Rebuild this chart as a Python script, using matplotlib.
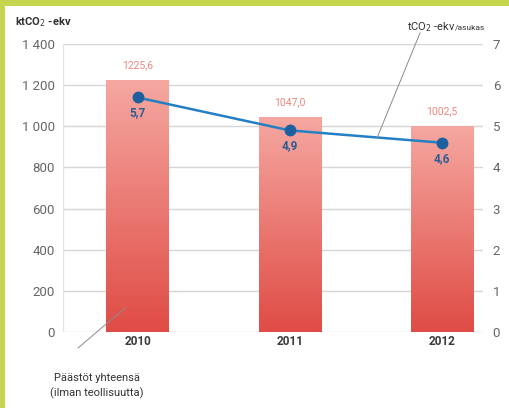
import numpy as np
import matplotlib
matplotlib.use("Agg")
import matplotlib.pyplot as plt
from matplotlib.patches import Rectangle
from matplotlib.colors import LinearSegmentedColormap
from matplotlib.lines import Line2D

years = ["2010", "2011", "2012"]
total_kt = [1225.6, 1047.0, 1002.5]
per_capita_t = [5.7, 4.9, 4.6]
left_ticks = [0, 200, 400, 600, 800, 1000, 1200, 1400]
left_tick_labels = ["0", "200", "400", "600", "800", "1 000", "1 200", "1 400"]
right_ticks = [0, 1, 2, 3, 4, 5, 6, 7]

plt.rcParams["font.family"] = ["Roboto", "DejaVu Sans"]

W, H = 510, 408
fig = plt.figure(figsize=(W / 100, H / 100), dpi=100)
fig.patch.set_facecolor("#c6d54e")


def fx(px):
    return px / W


def fy(py):
    return 1 - py / H


# white panel inside the green frame
fig.add_artist(Rectangle((fx(5), 0), 1 - fx(5), fy(6), transform=fig.transFigure,
                         facecolor="white", edgecolor="none", zorder=0))

ax = fig.add_axes([fx(63), fy(332), fx(483) - fx(63), fy(44) - fy(332)])
ax.set_facecolor("none")
x = np.array([0.0, 1.0, 2.0])
ax.set_xlim(-0.49, 2.27)
ax.set_ylim(0, 1400)

for t in left_ticks:
    ax.axhline(t, color="#d6d6d6", lw=1.0, zorder=1)

bar_w = 0.41
bars = ax.bar(x, total_kt, width=bar_w, color="none", edgecolor="none", zorder=2)
grad = LinearSegmentedColormap.from_list("g", ["#df4c45", "#f5a8a1"])
gimg = np.linspace(0, 1, 256).reshape(-1, 1)
for b in bars:
    x0, w, h = b.get_x(), b.get_width(), b.get_height()
    im = ax.imshow(gimg, cmap=grad, origin="lower", aspect="auto",
                   extent=(x0, x0 + w, 0, h), zorder=2)
    im.set_clip_path(b)
ax.set_xlim(-0.49, 2.27)
ax.set_ylim(0, 1400)

for xi, v in zip(x, total_kt):
    ax.text(xi, v + 45, f"{v:.1f}".replace(".", ","), ha="center", va="bottom",
            color="#e9877e", fontsize=7.5, zorder=5)

ax.set_yticks(left_ticks)
ax.set_yticklabels(left_tick_labels)
ax.set_xticks([])
ax.tick_params(axis="y", length=0, pad=6, labelsize=9.5, labelcolor="#666666")
for s in ax.spines.values():
    s.set_visible(False)
ax.axvline(-0.49, color="#e2e2e2", lw=1.0, zorder=1)

for xi, yr in zip(x, years):
    ax.text(xi, -48, yr, ha="center", va="center", fontsize=8.5,
            color="#3a3a3a", fontweight="bold", zorder=5, clip_on=False)

ax2 = ax.twinx()
ax2.set_ylim(0, 7)
ax2.set_yticks(right_ticks)
ax2.tick_params(axis="y", length=0, pad=7, labelsize=9.5, labelcolor="#666666")
for s in ax2.spines.values():
    s.set_visible(False)
ax2.plot(x, per_capita_t, color="#2480c4", lw=1.8, zorder=4)
ax2.plot(x, per_capita_t, "o", color="#1d5f9f", ms=7.5, zorder=5)
for xi, v in zip(x, per_capita_t):
    ax2.text(xi, v - 0.22, f"{v:.1f}".replace(".", ","), ha="center", va="top",
             color="#2d5c96", fontsize=8.5, fontweight="bold", zorder=6)

# axis captions
fig.text(fx(15), fy(22), "ktCO$_2$ -ekv", ha="left", va="center",
         fontsize=8, fontweight="bold", color="#333333")
fig.text(fx(455), fy(27), "tCO$_2$ -ekv", ha="right", va="center",
         fontsize=8, color="#333333")
fig.text(fx(455), fy(28), "/asukas", ha="left", va="center",
         fontsize=6, color="#333333")

# leader lines
fig.add_artist(Line2D([fx(420), fx(377)], [fy(33), fy(138)], transform=fig.transFigure,
                      color="#8a8a8a", lw=0.7, zorder=6))
fig.add_artist(Line2D([fx(78), fx(125)], [fy(348), fy(308)], transform=fig.transFigure,
                      color="#8a8a8a", lw=0.7, zorder=6))

fig.text(fx(97), fy(378), "Päästöt yhteensä", ha="center", va="center",
         fontsize=8, color="#333333")
fig.text(fx(97), fy(393), "(ilman teollisuutta)", ha="center", va="center",
         fontsize=8, color="#333333")

fig.savefig("out.png", dpi=100, facecolor=fig.get_facecolor())
